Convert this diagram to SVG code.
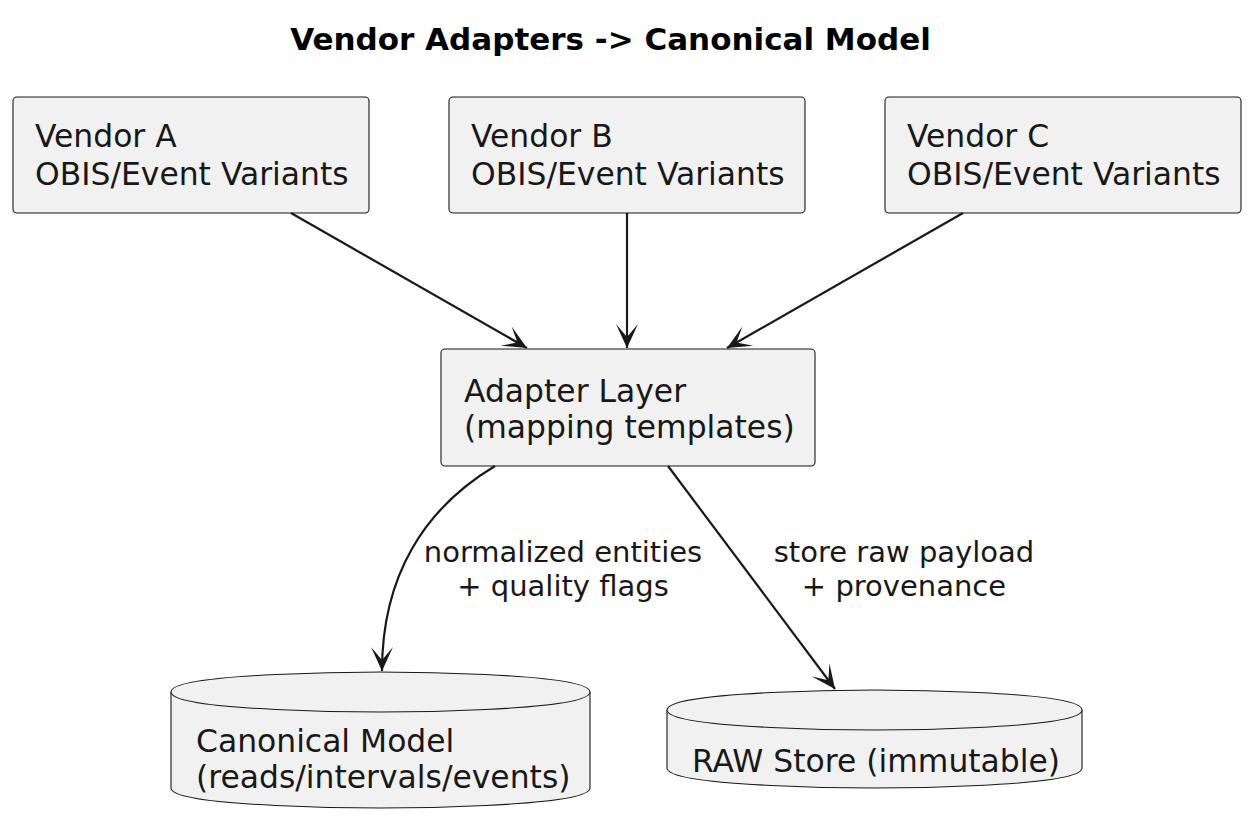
<svg xmlns="http://www.w3.org/2000/svg" width="1247" height="840" viewBox="0 0 1247 840">
<style>
.node{fill:#F1F1F1;stroke:#181818;stroke-width:1.1}
.t{font-family:"DejaVu Sans",sans-serif;font-size:31.4px;fill:#181818}
.lbl{font-family:"DejaVu Sans",sans-serif;font-size:29px;fill:#181818;text-anchor:middle}
.title{font-family:"DejaVu Sans",sans-serif;font-size:31px;font-weight:bold;fill:#000;text-anchor:middle}
.edge{fill:none;stroke:#181818;stroke-width:2.2}
</style>
<defs>
<marker id="ah" viewBox="-26 -13 28 26" refX="0" refY="0" markerWidth="28" markerHeight="26" markerUnits="userSpaceOnUse" orient="auto">
<path d="M0,0 L-24,-11 L-11,0 L-24,11 Z" fill="#181818"/>
</marker>
</defs>
<rect width="1247" height="840" fill="#FFFFFF"/>
<text class="title" x="610.5" y="50">Vendor Adapters -&gt; Canonical Model</text>

<g id="vendorA">
<rect class="node" x="13" y="97" width="356" height="116" rx="4"/>
<text class="t" x="35" y="147">Vendor A</text>
<text class="t" x="35" y="185">OBIS/Event Variants</text>
</g>
<g id="vendorB">
<rect class="node" x="449" y="97" width="356" height="116" rx="4"/>
<text class="t" x="471" y="147">Vendor B</text>
<text class="t" x="471" y="185">OBIS/Event Variants</text>
</g>
<g id="vendorC">
<rect class="node" x="885" y="97" width="356" height="116" rx="4"/>
<text class="t" x="907" y="147">Vendor C</text>
<text class="t" x="907" y="185">OBIS/Event Variants</text>
</g>
<g id="adapter">
<rect class="node" x="441" y="349" width="374" height="117" rx="4"/>
<text class="t" x="464" y="402">Adapter Layer</text>
<text class="t" x="464" y="438">(mapping templates)</text>
</g>
<g id="canonical">
<path class="node" d="M171,692 C171,672 380.5,672 380.5,672 C380.5,672 590,672 590,692 L590,788 C590,808 380.5,808 380.5,808 C380.5,808 171,808 171,788 Z"/>
<path class="node" fill="none" d="M171,692 C171,712 380.5,712 380.5,712 C380.5,712 590,712 590,692"/>
<text class="t" x="196" y="752">Canonical Model</text>
<text class="t" x="196" y="788">(reads/intervals/events)</text>
</g>
<g id="raw">
<path class="node" d="M667,710 C667,690 874.5,690 874.5,690 C874.5,690 1082,690 1082,710 L1082,768 C1082,788 874.5,788 874.5,788 C874.5,788 667,788 667,768 Z"/>
<path class="node" fill="none" d="M667,710 C667,730 874.5,730 874.5,730 C874.5,730 1082,730 1082,710"/>
<text class="t" x="692" y="772">RAW Store (immutable)</text>
</g>

<g id="connectors">
<path class="edge" marker-end="url(#ah)" d="M291,213 L527,348"/>
<path class="edge" marker-end="url(#ah)" d="M627,213 L627,348"/>
<path class="edge" marker-end="url(#ah)" d="M963,213 L727,348"/>
<path class="edge" marker-end="url(#ah)" d="M495,466 C425,508 382,575 382,671"/>
<path class="edge" marker-end="url(#ah)" d="M668,466 L835,689"/>
<text class="lbl" x="563" y="562">normalized entities</text>
<text class="lbl" x="563" y="596">+ quality flags</text>
<text class="lbl" x="904" y="562">store raw payload</text>
<text class="lbl" x="904" y="596">+ provenance</text>
</g>
</svg>
